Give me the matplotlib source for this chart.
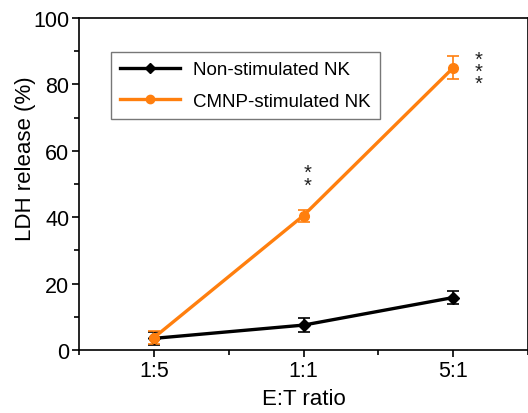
import numpy as np
import matplotlib
matplotlib.use('Agg')
import matplotlib.pyplot as plt
from matplotlib.ticker import MultipleLocator
from matplotlib.lines import Line2D

plt.rcParams['font.family'] = ['Liberation Sans', 'DejaVu Sans']

ratios = ['1:5', '1:1', '5:1']
non_stim = [3.5, 7.5, 15.8]
non_stim_err = [2.0, 2.0, 2.0]
cmnp_stim = [3.7, 40.5, 85.0]
cmnp_err = [2.0, 1.8, 3.5]
signif = ['', '*\n*', '*\n*\n*']

orange = '#ff7f0e'
x = np.arange(1, len(ratios) + 1)

fig = plt.figure(figsize=(5.28, 4.14), dpi=100)
ax = fig.add_axes([79/528, 1 - 351/414, 449/528, 332/414])

ax.errorbar(x, non_stim, yerr=non_stim_err, color='black', lw=2.4, marker='D',
            ms=6, capsize=4, elinewidth=1.2, capthick=1.2)
ax.errorbar(x, cmnp_stim, yerr=cmnp_err, color=orange, lw=2.4, marker='o',
            ms=7, capsize=4, elinewidth=1.2, capthick=1.2)

# significance marks, stacked asterisks
ax.text(x[1] + 0.03, cmnp_stim[1] + 11, signif[1], ha='center', va='center',
        fontsize=14.5, color='#222222', linespacing=0.56)
ax.text(x[2] + 0.17, cmnp_stim[2] - 1, signif[2], ha='center', va='center',
        fontsize=14.5, color='#222222', linespacing=0.52)

ax.set_xlim(0.5, 3.5)
ax.set_ylim(0, 100)
ax.set_xticks(x)
ax.set_xticklabels(ratios)
ax.xaxis.set_minor_locator(MultipleLocator(0.5))
ax.yaxis.set_major_locator(MultipleLocator(20))
ax.yaxis.set_minor_locator(MultipleLocator(10))
ax.tick_params(which='major', length=5, width=1.2, labelsize=15.5, pad=2)
ax.tick_params(which='minor', length=3.5, width=1.2)
for s in ax.spines.values():
    s.set_linewidth(1.2)

ax.set_xlabel('E:T ratio', fontsize=16, labelpad=5)
ax.set_ylabel('LDH release (%)', fontsize=16)
ax.yaxis.set_label_coords(-0.096, 0.58)

handles = [Line2D([], [], color='black', lw=2.4, marker='D', ms=5),
           Line2D([], [], color=orange, lw=2.4, marker='o', ms=6)]
leg = ax.legend(handles, ['Non-stimulated NK', 'CMNP-stimulated NK'],
                loc='upper left', bbox_to_anchor=(0.0714, 0.8976), fontsize=13.5,
                frameon=True, fancybox=False, edgecolor='#555555', handlelength=3.2,
                borderpad=0.5, labelspacing=0.75, handletextpad=0.65, borderaxespad=0)
leg.get_frame().set_linewidth(1.0)

fig.savefig('out.png', dpi=100)
